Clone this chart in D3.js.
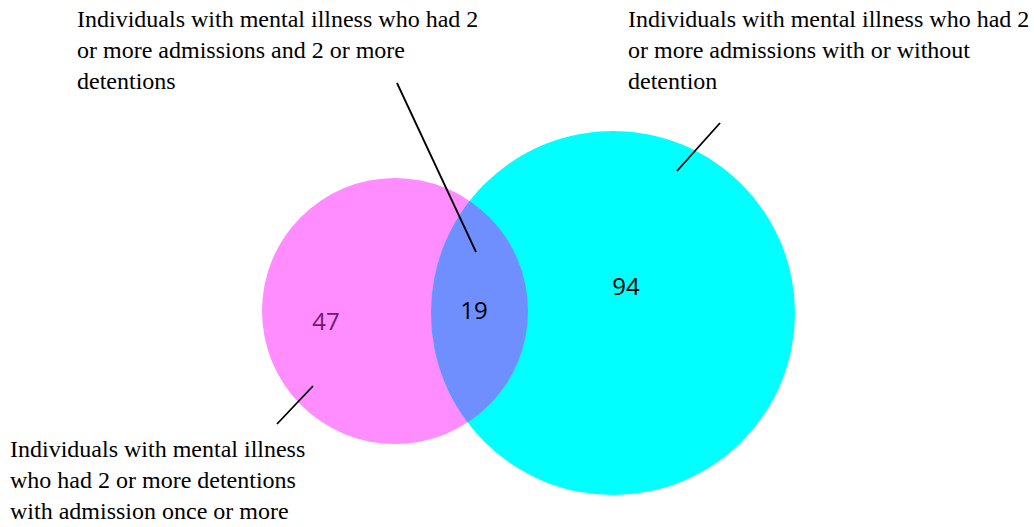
<!DOCTYPE html>
<html><head><meta charset="utf-8">
<script src="https://cdn.jsdelivr.net/npm/d3@7"></script>
<style>
body{margin:0;background:#fff}svg{display:block}
.ann, .ann tspan{font-family:"Liberation Serif", serif;font-size:24px;fill:#000}
.val{font-family:"Open Sans", sans-serif;font-size:24px}
</style>
</head><body>
<script>
// Data
const sets = ["Detentions (2+) with admission", "Admissions (2+)"];
const regionLabels = ["pinkOnly", "overlap", "cyanOnly"];
const regionValues = [47, 19, 94];
const annotationLines = [
  ["Individuals with mental illness who had 2", "or more admissions and 2 or more", "detentions"],
  ["Individuals with mental illness who had 2", "or more admissions with or without", "detention"],
  ["Individuals with mental illness", "who had 2 or more detentions", "with admission once or more"]
];

const W = 1034, H = 527;
const svg = d3.select("body").append("svg").attr("width", W).attr("height", H);

// layout (geometry)
const circles = [
  {cx: 395, cy: 311, r: 133, fill: "#ff8dff"},
  {cx: 613, cy: 313, r: 182, fill: "#00ffff"}
];
const defs = svg.append("defs");
defs.append("clipPath").attr("id", "clipPink").append("circle")
  .attr("cx", circles[0].cx).attr("cy", circles[0].cy).attr("r", circles[0].r);

svg.selectAll("circle.set").data(circles).join("circle")
  .attr("class", "set")
  .attr("cx", d => d.cx).attr("cy", d => d.cy).attr("r", d => d.r)
  .attr("fill", d => d.fill);
svg.append("circle")
  .attr("cx", circles[1].cx).attr("cy", circles[1].cy).attr("r", circles[1].r)
  .attr("clip-path", "url(#clipPink)").attr("fill", "#6f8fff");

// value labels
const valuePos = [
  {x: 326, y: 330, c: "#6e1a6e"},
  {x: 474, y: 319, c: "#000"},
  {x: 626, y: 295, c: "#000"}
];
svg.selectAll("text.val").data(regionValues).join("text")
  .attr("class", "val")
  .attr("x", (d, i) => valuePos[i].x).attr("y", (d, i) => valuePos[i].y)
  .attr("text-anchor", "middle")
  .attr("fill", (d, i) => valuePos[i].c)
  .text(d => d);

// leader lines
const leaders = [
  [397, 83, 476, 252],
  [720, 123, 677, 171],
  [313, 386, 277, 424]
];
svg.selectAll("line.lead").data(leaders).join("line")
  .attr("x1", d => d[0]).attr("y1", d => d[1]).attr("x2", d => d[2]).attr("y2", d => d[3])
  .attr("stroke", "#000").attr("stroke-width", 1.8);

// annotation text
const annPos = [{x: 77, y: 27}, {x: 628, y: 27}, {x: 10, y: 457}];
annotationLines.forEach((lines, i) => {
  const t = svg.append("text").attr("class", "ann");
  lines.forEach((l, j) => {
    t.append("tspan").attr("x", annPos[i].x).attr("y", annPos[i].y + j * 31).text(l);
  });
});
</script>
</body></html>
